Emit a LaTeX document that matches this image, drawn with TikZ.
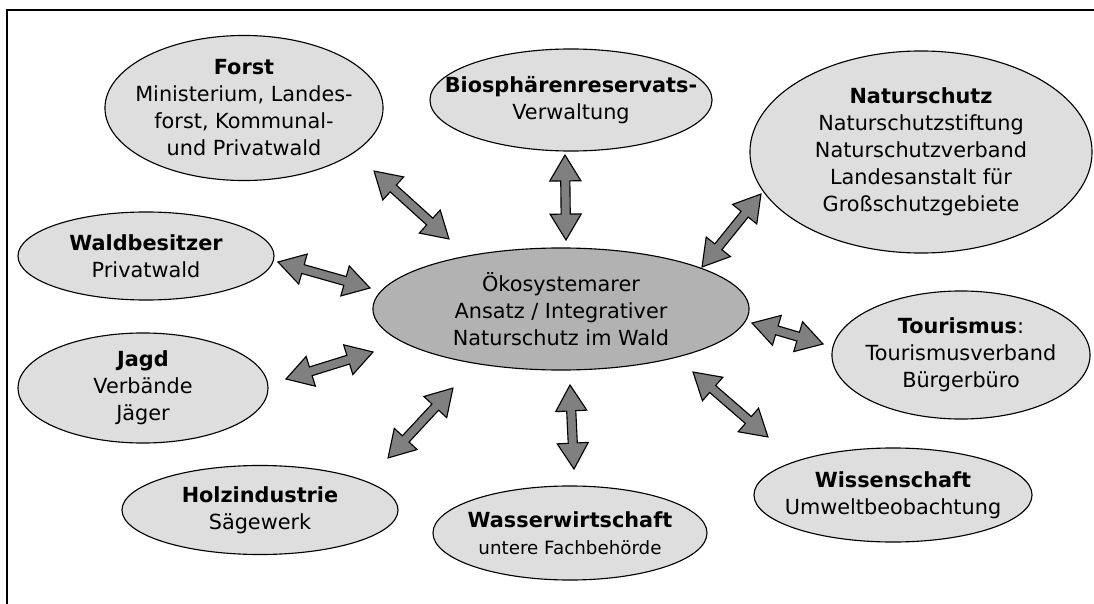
\documentclass[tikz,border=0pt]{standalone}
\usepackage{fontspec}
\setmainfont{DejaVu Sans}
\usepackage{tikz}
\usetikzlibrary{shapes.geometric, shapes.arrows, calc, positioning}

\newcommand{\fatarrow}[2]{%
  \path let \p1=(#1), \p2=(#2), \n1={veclen(\x2-\x1,\y2-\y1)}, \n2={atan2(\y2-\y1,\x2-\x1)} in
    node[fatarrow, minimum height=\n1, rotate=\n2] at ($(#1)!0.5!(#2)$) {};}

\begin{document}
\begin{tikzpicture}[x=0.025cm, y=-0.025cm,
  group/.style={ellipse, draw, line width=0.8pt, fill=black!13, inner sep=-1.5cm, align=center,
    font=\fontsize{14.8}{19.2}\selectfont},
  hub/.style={group, fill=black!30},
  fatarrow/.style={double arrow, draw, line width=0.8pt, fill=black!50, inner sep=0.1cm,
    double arrow head extend=0.275cm, double arrow tip angle=62}]
  \useasboundingbox (0,0) rectangle (1094,604);
  \draw[line width=1.2pt] (1094,10) -- (7,10) -- (7,604);

  \node[hub, minimum width=9.4cm, minimum height=3.05cm] (zentrum) at (561,309)
    {Ökosystemarer\\Ansatz / Integrativer\\Naturschutz im Wald};

  \node[group, minimum width=6.95cm, minimum height=3.625cm] (forst) at (244,108)
    {\textbf{Forst}\\Ministerium, Landes-\\forst, Kommunal-\\und Privatwald};
  \node[group, minimum width=7.05cm, minimum height=2.55cm] (bio) at (571,100)
    {\textbf{Biosphärenreservats-}\\Verwaltung};
  \node[group, minimum width=8.55cm, minimum height=5.05cm] (natur) at (921,152)
    {\textbf{Naturschutz}\\Naturschutzstiftung\\Naturschutzverband\\Landesanstalt für\\Großschutzgebiete};
  \node[group, minimum width=6.4cm, minimum height=2.2cm] (wald) at (146,256)
    {\textbf{Waldbesitzer}\\Privatwald};
  \node[group, minimum width=6.25cm, minimum height=2.75cm] (jagd) at (143,388)
    {\textbf{Jagd}\\Verbände\\Jäger};
  \node[group, minimum width=6.45cm, minimum height=3.2cm] (touri) at (961,355)
    {\textbf{Tourismus}:\\Tourismusverband\\Bürgerbüro};
  \node[group, minimum width=6.9cm, minimum height=2.225cm] (holz) at (260,510)
    {\textbf{Holzindustrie}\\Sägewerk};
  \node[group, minimum width=6.85cm, minimum height=2.35cm] (wasser) at (570,533)
    {\textbf{Wasserwirtschaft}\\{\fontsize{13}{17}\selectfont untere Fachbehörde}};
  \node[group, minimum width=6.95cm, minimum height=2.35cm] (wiss) at (893,495)
    {\textbf{Wissenschaft}\\Umweltbeobachtung};

  % arrow ends
  \coordinate (forst-a) at (374,171);  \coordinate (forst-b) at (449,239);
  \coordinate (bio-a) at (565,155);    \coordinate (bio-b) at (566,240);
  \coordinate (natur-a) at (761,194);  \coordinate (natur-b) at (702,267);
  \coordinate (wald-a) at (278,262);   \coordinate (wald-b) at (370,288);
  \coordinate (jagd-a) at (286,379);   \coordinate (jagd-b) at (373,352);
  \coordinate (touri-a) at (823,344);  \coordinate (touri-b) at (752,323);
  \coordinate (holz-a) at (388,458);   \coordinate (holz-b) at (453,388);
  \coordinate (wasser-a) at (574,469); \coordinate (wasser-b) at (570,385);
  \coordinate (wiss-a) at (768,437);   \coordinate (wiss-b) at (693,372);

  \foreach \g in {forst, bio, natur, wald, jagd, touri, holz, wasser, wiss}
    {\fatarrow{\g-a}{\g-b}}
\end{tikzpicture}
\end{document}
